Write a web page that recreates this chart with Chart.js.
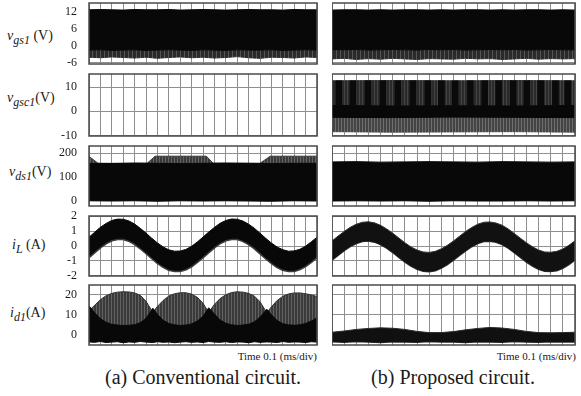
<!DOCTYPE html>
<html>
<head>
<meta charset="utf-8">
<script src="https://cdn.jsdelivr.net/npm/chart.js@4.4.0/dist/chart.umd.min.js"></script>
<style>
  html, body { margin: 0; padding: 0; background: #fff; }
  #fig { position: relative; width: 581px; height: 396px; overflow: hidden;
         font-family: "Liberation Serif", "Times New Roman", serif; color: #1a1a1a; }
  #fig canvas { position: absolute; }
  .ttl { position: absolute; font-size: 14px; line-height: 14px; white-space: nowrap; }
  .ttl sub { font-size: 12px; line-height: 0; vertical-align: -4px; font-style: italic; }
  .time { position: absolute; font-size: 11px; line-height: 11px; white-space: nowrap; text-align: right; }
  .cap { position: absolute; font-size: 20px; line-height: 20px; white-space: nowrap; text-align: center; }
</style>
</head>
<body>
<div id="fig">
  <div class="ttl" style="left:7px;top:29px"><i>v</i><sub>gs1</sub> (V)</div>
  <div class="ttl" style="left:7px;top:91px"><i>v</i><sub>gsc1</sub>(V)</div>
  <div class="ttl" style="left:9px;top:165px"><i>v</i><sub>ds1</sub>(V)</div>
  <div class="ttl" style="left:12px;top:238px"><i>i</i><sub>L</sub> (A)</div>
  <div class="ttl" style="left:10px;top:306px"><i>i</i><sub>d1</sub>(A)</div>

  <div class="time" style="right:264px;top:351px">Time 0.1 (ms/div)</div>
  <div class="time" style="right:5px;top:351px">Time 0.1 (ms/div)</div>

  <div class="cap" style="left:73px;width:260px;top:367px">(a) Conventional circuit.</div>
  <div class="cap" style="left:323px;width:260px;top:367px">(b) Proposed circuit.</div>
</div>

<script>
(function() {
    'use strict';

    // time axis: 20 divisions of 0.1 ms
    const DIVS = [0,1,2,3,4,5,6,7,8,9,10,11,12,13,14,15,16,17,18,19,20];

    // ---- v_gs1 (V): black band + grey lower fringe ----
    const VGS_X = [0,1,2,3,4,5,6,7,8,9,10,11,12,13,14,15,16,17,18,19,20];
    const VGS_CONV_TOP = [12.7,12.8,12.7,12.6,12.8,12.7,12.7,12.8,12.6,12.7,12.8,12.7,12.6,12.7,12.8,12.7,12.7,12.6,12.8,12.7,12.7];
    const VGS_CONV_MID = [-1.5,-1.4,-1.6,-1.5,-1.4,-1.6,-1.5,-1.4,-1.5,-1.6,-1.4,-1.5,-1.6,-1.4,-1.5,-1.5,-1.4,-1.6,-1.5,-1.4,-1.5];
    const VGS_CONV_LOW = [-4.0,-4.2,-3.9,-4.1,-4.3,-4.0,-4.4,-4.1,-3.9,-4.2,-4.0,-4.3,-4.1,-3.8,-4.2,-4.4,-4.0,-4.1,-4.3,-3.9,-4.1];
    const VGS_PROP_TOP = [12.6,12.7,12.7,12.6,12.7,12.6,12.7,12.7,12.6,12.7,12.6,12.7,12.7,12.6,12.7,12.6,12.7,12.7,12.6,12.7,12.6];
    const VGS_PROP_MID = [-1.3,-1.4,-1.3,-1.5,-1.4,-1.3,-1.4,-1.5,-1.3,-1.4,-1.3,-1.5,-1.4,-1.3,-1.4,-1.3,-1.5,-1.4,-1.3,-1.4,-1.4];
    const VGS_PROP_LOW = [-4.6,-4.4,-4.8,-4.5,-4.7,-4.4,-4.6,-4.8,-4.5,-4.6,-4.7,-4.4,-4.6,-4.5,-4.8,-4.6,-4.4,-4.7,-4.5,-4.6,-4.5];

    // ---- v_gsc1 (V): proposed only (conventional panel is empty) ----
    const VGSC_X = [0,5,10,15,20];
    const VGSC_GREY_TOP = [12.6,12.7,12.6,12.7,12.6];
    const VGSC_GREY_LOW = [-8.4,-8.6,-8.5,-8.4,-8.6];
    const VGSC_BLACK_TOP = [2.4,2.2,2.3,2.2,2.4];
    const VGSC_BLACK_LOW = [-2.5,-2.6,-2.4,-2.5,-2.6];
    const VGSC_BAR_X = [0.55,1.73,2.97,4.2,5.43,6.67,7.9,9.0,10.15,11.39,12.57,13.72,14.9,16.05,17.18,18.39,19.4];
    const VGSC_BAR_RANGE = [2.3,12.6];

    // ---- v_ds1 (V) ----
    const VDS_X = [0,2,4,6,8,10,12,14,16,18,20];
    const VDS_CONV_TOP = [157,156,158,157,156,157,158,157,156,157,157];
    const VDS_CONV_LOW = [-1,-2,-1,-3,-1,-2,-1,-2,-3,-1,-2];
    const VDS_HUMP_X = [0,0.8,5.1,5.8,10.3,10.9,15.0,15.9,20];
    const VDS_CONV_HUMP = [186,157,157,187,187,157,157,187,187];
    const VDS_PROP_TOP = [163,164,162,163,164,163,162,164,163,162,163];
    const VDS_PROP_LOW = [-2,-1,-2,-1,-3,-1,-2,-2,-1,-2,-1];

    // ---- i_L (A): envelope of the switching ripple ----
    const IL_X = [0,0.5,1,1.5,2,2.5,3,3.5,4,4.5,5,5.5,6,6.5,7,7.5,8,8.5,9,9.5,10,
                  10.5,11,11.5,12,12.5,13,13.5,14,14.5,15,15.5,16,16.5,17,17.5,18,18.5,19,19.5,20];
    const IL_CONV_TOP = [0.59,0.93,1.26,1.52,1.72,1.81,1.80,1.69,1.48,1.19,0.87,0.53,0.21,-0.06,-0.26,-0.35,-0.34,-0.23,-0.02,0.27,0.60,
                         0.94,1.25,1.53,1.72,1.82,1.80,1.68,1.47,1.20,0.86,0.52,0.20,-0.07,-0.25,-0.35,-0.33,-0.22,-0.01,0.28,0.59];
    const IL_CONV_LOW = [-0.73,-0.39,-0.07,0.20,0.40,0.49,0.48,0.37,0.16,-0.13,-0.45,-0.79,-1.12,-1.38,-1.58,-1.67,-1.66,-1.55,-1.34,-1.05,-0.73,
                         -0.39,-0.07,0.21,0.40,0.49,0.48,0.36,0.15,-0.12,-0.46,-0.80,-1.12,-1.39,-1.58,-1.67,-1.66,-1.54,-1.33,-1.04,-0.73];
    const IL_PROP_TOP = [0.34,0.67,0.98,1.26,1.47,1.60,1.63,1.56,1.39,1.15,0.86,0.54,0.22,-0.06,-0.27,-0.40,-0.43,-0.36,-0.19,0.05,0.34,
                         0.66,0.98,1.25,1.47,1.60,1.62,1.55,1.40,1.15,0.85,0.53,0.22,-0.05,-0.27,-0.40,-0.42,-0.36,-0.20,0.05,0.35];
    const IL_PROP_LOW = [-0.96,-0.64,-0.32,-0.04,0.17,0.30,0.33,0.26,0.09,-0.15,-0.44,-0.77,-1.08,-1.36,-1.57,-1.70,-1.73,-1.66,-1.49,-1.25,-0.96,
                         -0.63,-0.33,-0.05,0.17,0.30,0.32,0.25,0.10,-0.15,-0.45,-0.76,-1.08,-1.35,-1.57,-1.70,-1.72,-1.66,-1.50,-1.25,-0.95];

    // ---- i_d1 (A) ----
    const ID1_CONV_X = [0,0.5,1,1.5,2,2.5,3,3.5,4,4.5,5,5.6,6,6.5,7,7.5,8,8.5,9,9.5,10,10.5,
                        11,11.5,12,12.5,13,13.5,14,14.5,15,15.6,16,16.5,17,17.5,18,18.5,19,19.5,20];
    const ID1_CONV_HUMP = [12.0,14.8,17.6,19.6,20.8,21.4,21.6,21.5,21.0,19.8,16.8,11.3,14.2,17.2,19.4,20.6,21.1,21.1,20.4,18.8,15.8,11.2,
                           15.2,18.2,20.1,21.2,21.6,21.4,20.8,19.4,16.6,11.0,14.0,17.2,19.3,20.5,21.0,21.0,20.6,20.0,19.2];
    const ID1_CONV_TOP = [14.5,11.0,8.0,6.2,5.2,4.8,4.6,4.7,5.0,6.0,8.2,13.3,10.2,7.2,5.6,4.9,4.6,4.8,5.4,6.8,9.2,13.5,
                          10.4,7.4,5.7,4.9,4.6,4.8,5.2,6.4,8.8,12.8,10.0,7.1,5.5,4.9,4.7,4.9,5.6,6.8,8.4];
    const ID1_CONV_LOW = [-3.7,-3.9,-3.5,-4.0,-3.8,-3.6,-4.1,-3.7,-3.9,-3.5,-3.8,-4.0,-3.6,-3.9,-3.7,-4.1,-3.8,-3.6,-3.9,-3.7,-4.0,-3.5,
                          -3.8,-3.9,-3.6,-4.0,-3.7,-3.8,-4.1,-3.6,-3.9,-3.7,-3.8,-4.0,-3.5,-3.9,-3.7,-3.8,-4.0,-3.6,-3.8];
    const ID1_PROP_X = [0,1,2,3,4,5,6,7,8,9,10,11,12,13,14,15,16,17,18,19,20];
    const ID1_PROP_TOP = [1.2,1.8,2.6,3.1,3.4,3.2,2.6,1.6,1.0,1.0,1.5,2.4,3.1,3.6,3.3,2.6,1.6,1.0,0.9,1.0,1.2];
    const ID1_PROP_LOW = [-3.6,-3.9,-3.5,-3.8,-4.0,-3.6,-3.7,-3.9,-3.5,-3.8,-3.7,-4.0,-3.6,-3.8,-3.9,-3.5,-3.7,-3.9,-3.6,-3.8,-3.7];

    // y scales of the five rows (min/max chosen so the tick labels sit where the scope shows them)
    const Y_VGS  = { min: -6.4, max: 15.1, ticks: [-6, 0, 6, 12] };
    const Y_VGSC = { min: -10.2, max: 15.4, ticks: [-10, 0, 10] };
    const Y_VDS  = { min: -23, max: 230, ticks: [0, 100, 200] };
    const Y_IL   = { min: -2.02, max: 2.02, ticks: [-2, -1, 0, 1, 2] };
    const Y_ID1  = { min: -5.25, max: 25, ticks: [0, 10, 20] };

    // panel rectangles in page pixels
    const COL_L = { left: 89, right: 317 };
    const COL_R = { left: 332, right: 575 };
    const ROWS = [[3, 64], [74, 136], [146, 206], [216, 276], [285, 345]];

    const GRID = '#8e8e8e';
    const BLACK = '#080808';
    const fig = document.getElementById('fig');

    Chart.defaults.font.family = '"Liberation Serif", "Times New Roman", serif';

    // grey trace areas on the scope have fine vertical streaks
    function stripes(base, line, period) {
        const t = document.createElement('canvas');
        t.width = period; t.height = 4;
        const c = t.getContext('2d');
        c.fillStyle = base; c.fillRect(0, 0, period, 4);
        c.fillStyle = line; c.fillRect(0, 0, 1, 4);
        return c.createPattern(t, 'repeat');
    }
    const GREY_HUMP = stripes('#3a3a3a', '#626262', 3);
    const GREY_FRINGE = stripes('#2a2a2a', '#555555', 4);
    const GREY_PWM = stripes('#2a2a2a', '#444444', 3);
    const GREY_LOW = stripes('#444444', '#6e6e6e', 3);

    const pts = (xs, ys) => xs.map((x, i) => ({ x: x, y: ys[i] }));

    function band(xs, hi, lo, fillColor, hiEdge, loEdge, loWidth) {
        return [
            { data: pts(xs, hi), fill: '+1', backgroundColor: fillColor,
              borderColor: hiEdge || fillColor, borderWidth: 1 },
            { data: pts(xs, lo), fill: false,
              borderColor: loEdge || fillColor, borderWidth: loWidth || 1 }
        ];
    }

    // full frame round the plot area
    const framePlugin = {
        id: 'frame',
        afterDatasetsDraw(chart) {
            const a = chart.chartArea, ctx = chart.ctx;
            ctx.save();
            ctx.strokeStyle = '#4a4a4a';
            ctx.lineWidth = 1.5;
            ctx.strokeRect(a.left, a.top, a.right - a.left, a.bottom - a.top);
            ctx.restore();
        }
    };

    function makePanel(col, row, yAxis, datasets, withLabels) {
        const PAD = 10;
        const cLeft = withLabels ? 0 : col.left;
        const cw = col.right - cLeft + 2;
        const ch = row[1] - row[0] + 2 * PAD;
        const cv = document.createElement('canvas');
        cv.width = cw; cv.height = ch;
        cv.style.left = cLeft + 'px';
        cv.style.top = (row[0] - PAD) + 'px';
        cv.style.width = cw + 'px';
        cv.style.height = ch + 'px';
        fig.appendChild(cv);

        return new Chart(cv, {
            type: 'line',
            data: { datasets: datasets },
            options: {
                responsive: false,
                animation: false,
                devicePixelRatio: 1,
                layout: { padding: { left: 0, right: 2, top: PAD, bottom: PAD } },
                plugins: { legend: { display: false }, tooltip: { enabled: false } },
                elements: { point: { radius: 0 }, line: { tension: 0 } },
                scales: {
                    x: {
                        type: 'linear', min: 0, max: 20, offset: false,
                        afterBuildTicks: s => { s.ticks = DIVS.map(v => ({ value: v })); },
                        afterFit: s => { s.height = 0; s.paddingLeft = 0; s.paddingRight = 0; },
                        ticks: { display: false },
                        grid: { color: GRID, lineWidth: 1, drawTicks: false, offset: false },
                        border: { display: false }
                    },
                    y: {
                        type: 'linear', min: yAxis.min, max: yAxis.max,
                        afterBuildTicks: s => { s.ticks = yAxis.ticks.map(v => ({ value: v })); },
                        afterFit: s => {
                            s.width = withLabels ? col.left : 0;
                            s.paddingTop = 0;
                            s.paddingBottom = 0;
                        },
                        ticks: {
                            display: withLabels, autoSkip: false, padding: 12,
                            color: '#1a1a1a', font: { size: 12 }
                        },
                        grid: { color: GRID, lineWidth: 1, drawTicks: false },
                        border: { display: false }
                    }
                }
            },
            plugins: [framePlugin]
        });
    }

    // row 1: v_gs1
    makePanel(COL_L, ROWS[0], Y_VGS, [
        ...band(VGS_X, VGS_CONV_TOP, VGS_CONV_MID, BLACK),
        ...band(VGS_X, VGS_CONV_MID, VGS_CONV_LOW, GREY_FRINGE)
    ], true);
    makePanel(COL_R, ROWS[0], Y_VGS, [
        ...band(VGS_X, VGS_PROP_TOP, VGS_PROP_MID, BLACK),
        ...band(VGS_X, VGS_PROP_MID, VGS_PROP_LOW, GREY_FRINGE)
    ], false);

    // row 2: v_gsc1
    makePanel(COL_L, ROWS[1], Y_VGSC, [], true);
    makePanel(COL_R, ROWS[1], Y_VGSC, [
        { type: 'bar', data: VGSC_BAR_X.map(x => ({ x: x, y: VGSC_BAR_RANGE })),
          backgroundColor: '#0a0a0a', barThickness: 6 },
        ...band(VGSC_X, VGSC_BLACK_TOP, VGSC_BLACK_LOW, BLACK),
        ...band(VGSC_X, VGSC_GREY_TOP, VGSC_BLACK_TOP, GREY_PWM),
        ...band(VGSC_X, VGSC_BLACK_LOW, VGSC_GREY_LOW, GREY_LOW)
    ], false);

    // row 3: v_ds1
    makePanel(COL_L, ROWS[2], Y_VDS, [
        ...band(VDS_X, VDS_CONV_TOP, VDS_CONV_LOW, BLACK),
        { data: pts(VDS_HUMP_X, VDS_CONV_HUMP), fill: 'origin',
          backgroundColor: GREY_HUMP, borderColor: '#3a3a3a', borderWidth: 1 }
    ], true);
    makePanel(COL_R, ROWS[2], Y_VDS, [
        ...band(VDS_X, VDS_PROP_TOP, VDS_PROP_LOW, BLACK)
    ], false);

    // row 4: i_L
    makePanel(COL_L, ROWS[3], Y_IL, [
        ...band(IL_X, IL_CONV_TOP, IL_CONV_LOW, BLACK, BLACK, '#3c3c3c', 3)
    ], true);
    makePanel(COL_R, ROWS[3], Y_IL, [
        ...band(IL_X, IL_PROP_TOP, IL_PROP_LOW, '#111111', '#333333', '#333333', 1.5)
    ], false);

    // row 5: i_d1
    makePanel(COL_L, ROWS[4], Y_ID1, [
        ...band(ID1_CONV_X, ID1_CONV_TOP, ID1_CONV_LOW, BLACK),
        { data: pts(ID1_CONV_X, ID1_CONV_HUMP), fill: 'origin',
          backgroundColor: GREY_HUMP, borderColor: '#333333', borderWidth: 1 }
    ], true);
    makePanel(COL_R, ROWS[4], Y_ID1, [
        ...band(ID1_PROP_X, ID1_PROP_TOP, ID1_PROP_LOW, '#101010', '#2a2a2a', '#2a2a2a', 1.5)
    ], false);
})();
</script>
</body>
</html>
